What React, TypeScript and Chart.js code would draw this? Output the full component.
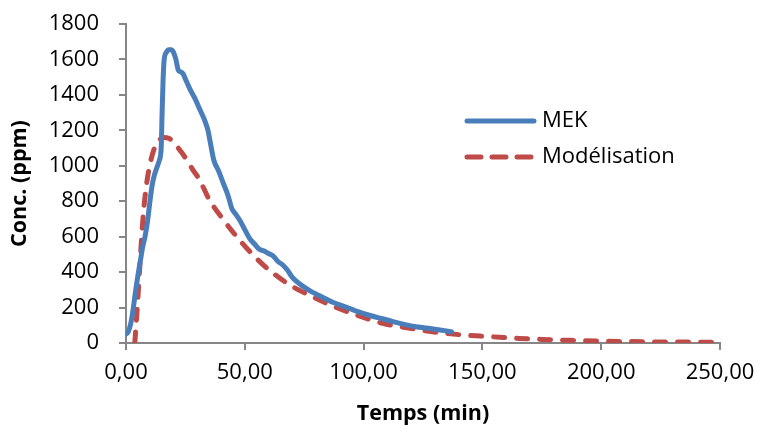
import React, { useEffect, useRef } from "react";
import { Chart, registerables } from "chart.js";

Chart.register(...registerables);

const mekTime = [0, 1, 2, 3, 4, 5, 6, 7, 8, 9, 10, 11, 12, 13, 14, 14.8, 15.2, 15.6, 16, 17, 18, 19, 20, 21, 22, 23, 24, 25, 27, 29, 31, 33, 34.5, 35.5, 37, 39, 41, 43, 44.5, 46, 48, 50, 52, 54, 56, 58, 60, 62, 64, 66, 68, 70, 72.5, 75, 78, 81, 84, 87, 90, 94, 98, 102, 106, 110, 114, 118, 122, 126, 130, 134, 137];
const mekConc = [50, 65, 110, 190, 290, 380, 460, 540, 600, 680, 790, 890, 950, 990, 1030, 1100, 1300, 1480, 1590, 1640, 1655, 1655, 1640, 1600, 1540, 1530, 1520, 1490, 1430, 1380, 1320, 1260, 1200, 1130, 1030, 970, 900, 830, 760, 730, 690, 640, 590, 560, 530, 520, 505, 490, 460, 440, 410, 370, 340, 315, 290, 270, 250, 230, 215, 195, 175, 158, 143, 130, 115, 102, 92, 85, 78, 70, 63];

const modTime = [3.7, 4.5, 5.9, 7.3, 8.7, 10.1, 12, 14, 16, 18, 20, 22, 25.5, 28, 31, 35, 41, 46.6, 53.6, 60, 69, 77, 86, 97, 108, 119.5, 131, 142, 153, 165, 175, 187, 200, 212, 225, 237, 250];
const modConc = [0, 150, 450, 730, 900, 1010, 1100, 1145, 1160, 1155, 1135, 1100, 1035, 980, 920, 810, 695, 600, 495, 415, 327, 271, 214, 158, 111, 83, 60, 45, 36, 26, 20, 15, 11, 8, 6, 5, 4];

const seriesLabels = ["MEK", "Modélisation"];
const xTickValues = [0, 50, 100, 150, 200, 250];
const yTickValues = [0, 200, 400, 600, 800, 1000, 1200, 1400, 1600, 1800];

const BLUE = "#4A7EBB";
const RED = "#BE4B48";
const FONT = "'Open Sans', 'Liberation Sans', sans-serif";

const legendPlugin = {
  id: "customLegend",
  afterDraw(chart: any) {
    const ctx = chart.ctx;
    const items = chart.data.datasets;
    ctx.save();
    items.forEach((ds: any, i: number) => {
      const y = 121 + i * 36;
      ctx.beginPath();
      ctx.strokeStyle = ds.borderColor;
      ctx.lineWidth = 5;
      ctx.lineCap = "round";
      ctx.setLineDash(ds.borderDash ? [14, 11] : []);
      ctx.moveTo(467, y);
      ctx.lineTo(534, y);
      ctx.stroke();
      ctx.setLineDash([]);
      ctx.fillStyle = "#000";
      ctx.font = `22px ${FONT}`;
      ctx.textBaseline = "middle";
      ctx.textAlign = "left";
      ctx.fillText(ds.label, 542, y);
    });
    ctx.restore();
  },
};

export default function App() {
  const ref = useRef<HTMLCanvasElement>(null);
  useEffect(() => {
    if (!ref.current) return;
    const chart = new Chart(ref.current, {
      type: "line",
      data: {
        datasets: [
          {
            label: seriesLabels[0],
            data: mekTime.map((t, i) => ({ x: t, y: mekConc[i] })),
            borderColor: BLUE,
            backgroundColor: BLUE,
            borderWidth: 5,
            pointRadius: 0,
            cubicInterpolationMode: "monotone",
            borderCapStyle: "round",
            borderJoinStyle: "round",
          },
          {
            label: seriesLabels[1],
            data: modTime.map((t, i) => ({ x: t, y: modConc[i] })),
            borderColor: RED,
            backgroundColor: RED,
            borderWidth: 5,
            borderDash: [11, 12],
            pointRadius: 0,
            cubicInterpolationMode: "monotone",
            borderCapStyle: "round",
          },
        ],
      },
      options: {
        animation: false,
        responsive: false,
        maintainAspectRatio: false,
        layout: { padding: { left: 0, top: 24, right: 41, bottom: 0 } },
        plugins: { legend: { display: false }, tooltip: { enabled: false } },
        scales: {
          x: {
            type: "linear",
            min: 0,
            max: 250,
            afterFit: (s: any) => { s.height = 84; s.paddingLeft = 0; s.paddingRight = 0; },
            afterBuildTicks: (s: any) => { s.ticks = xTickValues.map((v) => ({ value: v })); },
            border: { color: "#868686", width: 2 },
            grid: { drawOnChartArea: false, drawTicks: true, tickLength: 7, color: "#868686", lineWidth: 2 },
            ticks: {
              padding: 10,
              color: "#000",
              font: { family: FONT, size: 22 },
              maxRotation: 0,
              callback: (v: any) => Number(v).toFixed(2).replace(".", ","),
            },
            title: {
              display: true,
              text: "Temps (min)",
              color: "#000",
              font: { family: FONT, size: 21.5, weight: "bold" },
              padding: { top: 4, bottom: 0 },
            },
          },
          y: {
            min: 0,
            max: 1800,
            afterFit: (s: any) => { s.width = 126; s.paddingTop = 0; s.paddingBottom = 0; },
            afterBuildTicks: (s: any) => { s.ticks = yTickValues.map((v) => ({ value: v })); },
            border: { color: "#868686", width: 2 },
            grid: { drawOnChartArea: false, drawTicks: true, tickLength: 7, color: "#868686", lineWidth: 2 },
            ticks: {
              padding: 20,
              color: "#000",
              font: { family: FONT, size: 22 },
              callback: (v: any) => String(v),
            },
            title: {
              display: true,
              text: "Conc. (ppm)",
              color: "#000",
              font: { family: FONT, size: 21.5, weight: "bold" },
              padding: { top: 7, bottom: 0 },
            },
          },
        },
      },
      plugins: [legendPlugin],
    });
    return () => chart.destroy();
  }, []);
  return (
    <div style={{ position: "fixed", left: 0, top: 0, width: 761, height: 427, background: "#fff" }}>
      <canvas ref={ref} width={761} height={427} style={{ display: "block" }} />
    </div>
  );
}
